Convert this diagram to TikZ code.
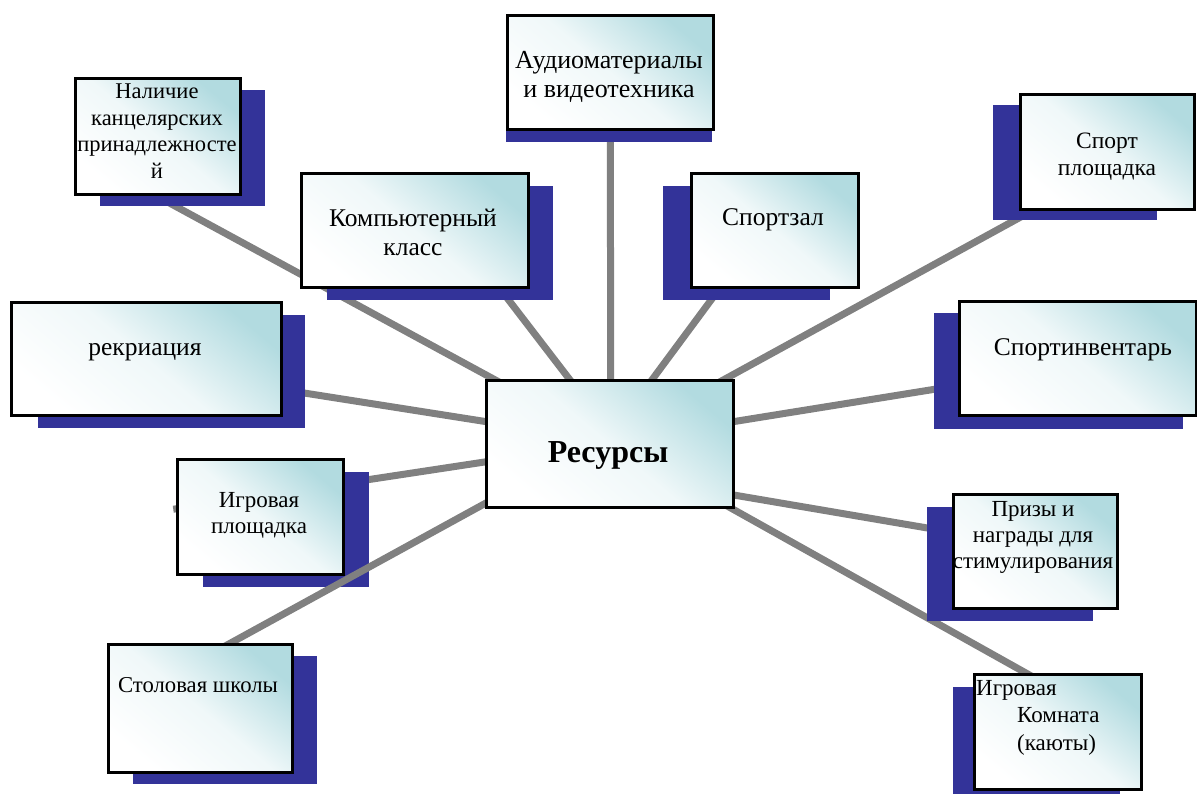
\documentclass[tikz,border=0pt]{standalone}
\usepackage{fontspec}
\setmainfont{Liberation Serif}
\usetikzlibrary{calc}
\definecolor{navy}{RGB}{51,51,153}
\definecolor{lcyan}{RGB}{178,219,224}
\definecolor{conngray}{RGB}{128,128,128}
\pgfdeclarelayer{lone}\pgfdeclarelayer{ltwo}\pgfdeclarelayer{lthree}
\pgfsetlayers{lone,ltwo,lthree,main}
\tikzset{
  box/.style={draw=black, line width=2.5pt, anchor=north west, inner sep=0pt,
    top color=lcyan, bottom color=white, middle color=white!80!lcyan, shading angle=-40},
  shad/.style={fill=navy},
  conn/.style={draw=conngray, line width=7pt},
  txt/.style={inner sep=0pt, align=center, anchor=base, font=\fontsize{23}{27}\selectfont},
  bigtxt/.style={txt, font=\fontsize{25.5}{29}\selectfont},
}
\begin{document}
\begin{tikzpicture}[x=1pt,y=-1pt]
\useasboundingbox (0,0) rectangle (1197,793);
% boxes with shadows
\fill[shad] (100,90) rectangle (265,206);
\node[box, minimum width=165pt, minimum height=116pt] (b1) at (74,77) {};
\fill[shad] (506,27) rectangle (712,142);
\node[box, minimum width=206pt, minimum height=114pt] (b2) at (506,14) {};
\fill[shad] (327,186) rectangle (553,300);
\node[box, minimum width=227pt, minimum height=114pt] (b3) at (300,172) {};
\fill[shad] (663,186) rectangle (830,300);
\node[box, minimum width=167pt, minimum height=114pt] (b4) at (690,172) {};
\fill[shad] (993,105) rectangle (1157,220);
\node[box, minimum width=174pt, minimum height=115pt] (b5) at (1019,93) {};
\fill[shad] (38,315) rectangle (305,428);
\node[box, minimum width=270pt, minimum height=113pt] (b6) at (10,301) {};
\fill[shad] (934,313) rectangle (1183,429);
\node[box, minimum width=237pt, minimum height=114pt] (b7) at (958,300) {};
\begin{pgfonlayer}{ltwo}
\fill[shad] (203,472) rectangle (369,587);
\node[box, minimum width=166pt, minimum height=115pt] (b8) at (176,458) {};
\end{pgfonlayer}
\fill[shad] (927,507) rectangle (1093,621);
\node[box, minimum width=164pt, minimum height=114pt] (b9) at (952,493) {};
\fill[shad] (133,656) rectangle (317,784);
\node[box, minimum width=184pt, minimum height=128pt] (b10) at (107,643) {};
\fill[shad] (953,687) rectangle (1120,800);
\node[box, minimum width=167pt, minimum height=115pt] (b11) at (973,673) {};
\node[box, minimum width=247pt, minimum height=127pt] (res) at (485,379) {};
% connectors
\begin{pgfonlayer}{lone}
\draw[conn] ([shift={(-87,-7.5)}]b8.center) -- ([shift={(-88,12.6)}]res.center);
\end{pgfonlayer}
\begin{pgfonlayer}{lthree}
\draw[conn] ([shift={(8.5,65)}]b1.center) -- ([shift={(-78,-44)}]res.center);
\draw[conn] ([shift={(0,29)}]b2.center) -- ([shift={(1,-42)}]res.center);
\draw[conn] ([shift={(56.5,21)}]b3.center) -- ([shift={(-23,-42)}]res.center);
\draw[conn] ([shift={(-33.5,29)}]b4.center) -- ([shift={(26,-42)}]res.center);
\draw[conn] ([shift={(-66,54)}]b5.center) -- ([shift={(92,-52)}]res.center);
\draw[conn] ([shift={(115,27.5)}]b6.center) -- ([shift={(-88,-16.5)}]res.center);
\draw[conn] ([shift={(-96.5,23.5)}]b7.center) -- ([shift={(92,-17)}]res.center);
\draw[conn] ([shift={(-53.5,-14)}]b9.center) -- ([shift={(92,45.8)}]res.center);
\draw[conn] ([shift={(11,-54.6)}]b10.center) -- ([shift={(-88,39.6)}]res.center);
\draw[conn] ([shift={(3.5,-39)}]b11.center) -- ([shift={(92,48)}]res.center);
\end{pgfonlayer}
% texts (base anchor = baseline of the last line)
\node[txt, font=\fontsize{22.5}{26.5}\selectfont] (t1) at (157,178) {Наличие\\канцелярских\\принадлежносте\\й};
\node[bigtxt, font=\fontsize{26}{29}\selectfont] (t2) at (609,97) {Аудиоматериалы\\и видеотехника};
\node[bigtxt] (t3) at (413,255) {Компьютерный\\класс};
\node[bigtxt] (t4) at (773,225) {Спортзал};
\node[txt, font=\fontsize{23.5}{27}\selectfont] (t5) at (1107,175) {Спорт\\площадка};
\node[bigtxt] (t6) at (145,355) {рекриация};
\node[bigtxt] (t7) at (1083,355) {Спортинвентарь};
\node[txt, font=\fontsize{23}{26}\selectfont] (t8) at (259,533) {Игровая\\площадка};
\node[txt, font=\fontsize{23}{26}\selectfont] (t9) at (1033,568) {Призы и\\награды для\\стимулирования};
\node[txt, font=\fontsize{22.7}{27}\selectfont] (t10) at (198,692) {Столовая школы};
\node[txt, align=left, anchor=base west, font=\fontsize{23}{27.5}\selectfont] (t11) at (976,750) {Игровая\\\hspace*{41pt}Комната\\\hspace*{41pt}(каюты)};
\node[txt, font=\fontsize{32}{36}\selectfont\bfseries] (t12) at (608,462) {Ресурсы};
\end{tikzpicture}
\end{document}
